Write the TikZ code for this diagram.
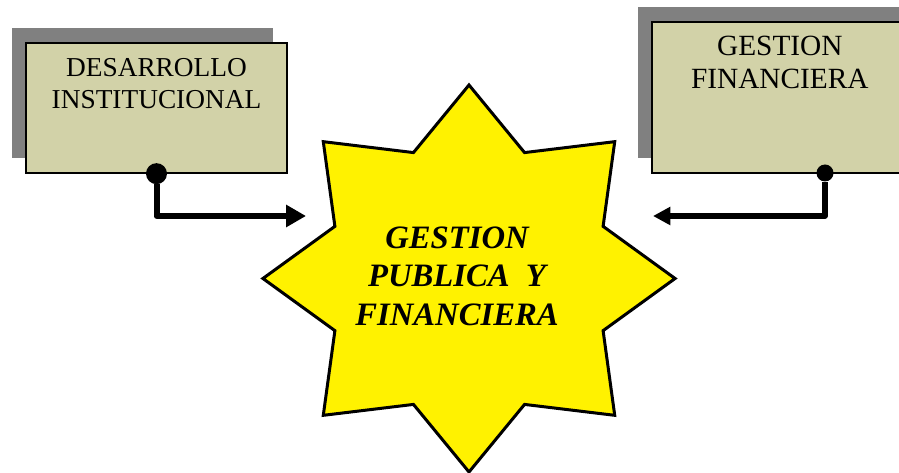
\documentclass[tikz,border=0pt]{standalone}
\usepackage{fontspec}
\setmainfont{Liberation Serif}
\usepackage{xcolor}
\usetikzlibrary{arrows.meta, positioning, shadows, shapes.geometric}
\definecolor{cajacolor}{RGB}{210,210,168}
\definecolor{sombracolor}{RGB}{128,128,128}
\def\EstrellaColor{yellow}

\begin{document}
\begin{tikzpicture} [
    x=0.75pt, y=-0.75pt,
     B/.style = {draw, line width=1pt, fill=cajacolor, minimum width=195.75pt, inner sep=0pt},
   sdw/.style = {drop shadow={shadow xshift=-10.5pt, shadow yshift=11.5pt, fill=sombracolor, opacity=1}},
 punto/.style = {circle, fill=black, inner sep=0pt, minimum size=15.75pt},
  conector/.style = {draw, line width=4.5pt, line join=round}
]
  \clip (0,0) rectangle (899,473);

  % Nodes and Positions
  % BOXES (TOP)
  \node[B, sdw, minimum height=97.5pt] (desarrollo) at (156.5,108) {};
  \node[B, sdw, minimum height=113.25pt] (gestion) at (782.5,97.5) {};

  \node[inner sep=0pt, align=center, font=\fontsize{20.5}{24}\selectfont]
     (desarrollotxt) [below=12pt of desarrollo.north] {DESARROLLO\\INSTITUCIONAL};
  \node[inner sep=0pt, align=center, font=\fontsize{22}{24.75}\selectfont]
     (gestiontxt) [below=10.5pt of gestion.north, xshift=-2pt] {GESTION\\FINANCIERA};

  % STAR (CENTER)
  \node[star, star points=8, star point ratio=1.42, minimum size=290.25pt, inner sep=0pt,
        xscale=1.065, draw, line width=2.25pt, fill=\EstrellaColor] (estrella) at (469,278.5) {};
  \node[inner sep=0pt, align=center, font=\fontsize{24.5}{28.9}\selectfont\bfseries\itshape]
     (estrellatxt) at (457,276) {GESTION\\PUBLICA\ \ Y\\FINANCIERA};

  % Dots and free ends
  \node[punto] (p1) at (desarrollo.south) {};
  \node[punto, minimum size=12.75pt] (p2) at (825,173) {};
  \coordinate (llegada1) at (306,216);
  \coordinate (llegada2) at (653,216);

  % Edges
  \draw[conector, -{Triangle[length=15pt, width=16pt]}] (p1) |- (llegada1);
  \draw[conector, line width=4pt, -{Triangle[length=13pt, width=13pt]}] (p2) |- (llegada2);

\end{tikzpicture}
\end{document}
